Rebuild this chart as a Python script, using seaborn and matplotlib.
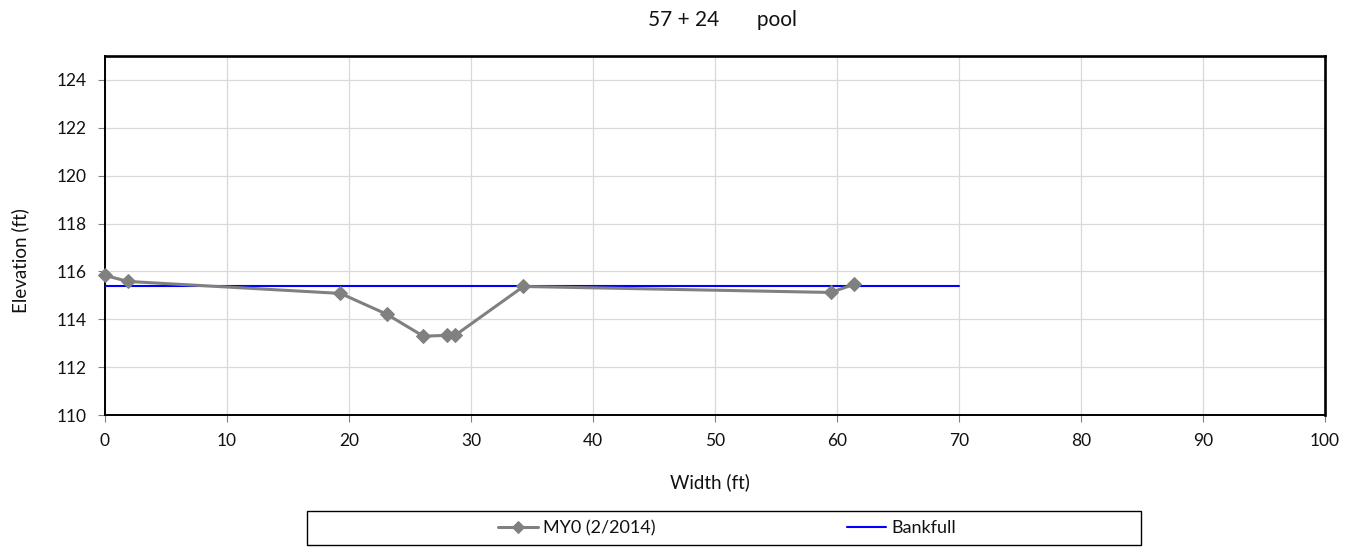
import matplotlib
matplotlib.use("Agg")
import matplotlib.pyplot as plt
from matplotlib.patches import Rectangle
import seaborn as sns
import pandas as pd

sns.set_theme(style="white")
plt.rcParams['font.family'] = ['Lato', 'DejaVu Sans']

width_ft = [0.0, 1.9, 19.3, 23.1, 26.1, 28.0, 28.7, 34.3, 59.5, 61.4]
elev_ft = [115.83, 115.58, 115.08, 114.21, 113.29, 113.33, 113.33, 115.37, 115.12, 115.46]
bank_x = [0.0, 70.0]
bank_y = [115.37, 115.37]
series_names = ["MY0 (2/2014)", "Bankfull"]
title = "57 + 24       pool"
x_ticks = list(range(0, 101, 10))
y_ticks = list(range(110, 125, 2))

df = pd.DataFrame({"Width": width_ft, "Elevation": elev_ft})
bf = pd.DataFrame({"Width": bank_x, "Elevation": bank_y})

W, H = 1346, 547
fig = plt.figure(figsize=(W / 100, H / 100), dpi=100)
ax = fig.add_axes([105 / W, 1 - 415 / H, (1325 - 105) / W, (415 - 56) / H])

sns.lineplot(data=df, x="Width", y="Elevation", ax=ax, color="#808080",
             marker="D", markersize=7, markeredgecolor="#808080", linewidth=2.2,
             label=series_names[0], clip_on=False, zorder=4)
sns.lineplot(data=bf, x="Width", y="Elevation", ax=ax, color="#0000ff",
             linewidth=1.5, label=series_names[1], zorder=3)

ax.set_xlim(0, 100)
ax.set_ylim(110, 125)
ax.set_xticks(x_ticks)
ax.set_yticks(y_ticks)
ax.grid(True, color="#d9d9d9", linewidth=0.9)
ax.set_axisbelow(True)
for name, s in ax.spines.items():
    s.set_color("black")
    s.set_linewidth(1.4 if name in ("left", "bottom") else 1.9)
ax.tick_params(axis="both", direction="out", length=5, width=0.8, color="#808080",
               labelsize=12.5, labelcolor="#111111", bottom=True, left=True)
ax.tick_params(axis="x", pad=8)
ax.tick_params(axis="y", pad=8)

ax.set_xlabel("Width (ft)", fontsize=13.5, va="center", color="#111111")
ax.xaxis.set_label_coords((710 - 105) / 1220, (415 - 482) / 359)
ax.set_ylabel("Elevation (ft)", fontsize=13.5, va="center", color="#111111")
ax.yaxis.set_label_coords((20 - 105) / 1220, (415 - 261) / 359)

fig.text(723 / W, 1 - 20 / H, title, ha="center", va="center", fontsize=15,
         color="#111111")

leg = ax.legend(loc="center left", bbox_to_anchor=(498 / W, 1 - 528 / H),
                bbox_transform=fig.transFigure, ncol=2, frameon=False,
                fontsize=13, columnspacing=10.6, handlelength=2.2,
                handletextpad=0.28, borderpad=0, borderaxespad=0)
for h in leg.get_lines():
    h.set_markersize(6)
for t in leg.get_texts():
    t.set_color("#111111")
fig.patches.append(Rectangle((307 / W, 1 - 545 / H), (1141 - 307) / W, (545 - 511) / H,
                             transform=fig.transFigure, fill=False,
                             edgecolor="black", linewidth=1.0))

fig.savefig("out.png", dpi=100)
